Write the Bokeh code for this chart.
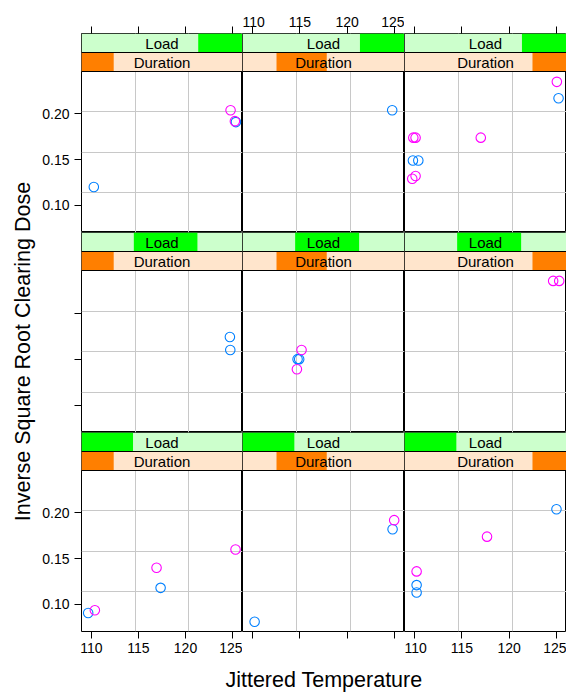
from bokeh.plotting import figure
from bokeh.layouts import gridplot, row, column
from bokeh.models import Range1d, LinearAxis, FixedTicker, Grid, PrintfTickFormatter, Title
from bokeh.core.properties import value
from bokeh.embed import file_html
from bokeh.resources import INLINE

# ---------------- data ----------------
# Duration level (1..3, panel column) and Load level (1..3, panel row from bottom)
duration_level = [1, 1, 1, 1,
                  2,
                  3, 3, 3, 3, 3, 3, 3, 3, 3,
                  1, 1,
                  2, 2, 2, 2,
                  3, 3,
                  1, 1, 1, 1, 1,
                  2, 2, 2,
                  3, 3, 3, 3, 3]
load_level = [3, 3, 3, 3,
              3,
              3, 3, 3, 3, 3, 3, 3, 3, 3,
              2, 2,
              2, 2, 2, 2,
              2, 2,
              1, 1, 1, 1, 1,
              1, 1, 1,
              1, 1, 1, 1, 1]
temperature = [110.25, 124.79, 125.25, 125.36,
               124.76,
               125.04, 125.22, 109.87, 110.11, 117.00, 109.83, 110.40, 109.76, 110.11,
               124.72, 124.76,
               115.18, 114.76, 114.93, 114.69,
               124.65, 125.29,
               109.65, 110.36, 116.92, 117.35, 125.32,
               110.22, 124.97, 124.80,
               125.00, 117.66, 110.22, 110.22, 110.22]
dose = [0.120, 0.204, 0.192, 0.191,
        0.204,
        0.235, 0.217, 0.174, 0.174, 0.174, 0.149, 0.149, 0.129, 0.132,
        0.174, 0.160,
        0.160, 0.150, 0.150, 0.139,
        0.235, 0.235,
        0.0905, 0.0935, 0.140, 0.118, 0.160,
        0.081, 0.192, 0.182,
        0.204, 0.174, 0.136, 0.121, 0.113]
group = ["b", "m", "m", "b",
         "b",
         "m", "b", "m", "m", "m", "b", "b", "m", "m",
         "b", "b",
         "m", "b", "b", "m",
         "m", "m",
         "b", "m", "m", "b", "m",
         "b", "m", "b",
         "b", "m", "m", "b", "b"]

# shingle intervals (fraction of overall range) shown in strips
duration_intervals = [(0.0, 0.20), (0.21, 0.52), (0.79, 1.0)]
load_intervals = [(0.0, 0.32), (0.325, 0.72), (0.725, 1.0)]

x_ticks = [110, 115, 120, 125]
y_ticks = [0.10, 0.15, 0.20]
x_limits = (108.94, 126.06)
y_limits = (0.0703, 0.2463)

group_colors = {"b": "#0080ff", "m": "#ff00ff"}

# ---------------- layout constants ----------------
COL_W = [161, 162, 162]
PANEL_H = [161, 162, 161]      # top, middle, bottom rows
STRIP_H = 19
YT_W = 36                      # width of y-title figure
LEFT_B = 81 - YT_W
TOP_B = 33
BOT_B = 30
FONT = "Liberation Sans"
GRID_COL = "#c8c8c8"

X_LO, X_HI = x_limits
Y_LO, Y_HI = y_limits


def make_axis(dim_ticks, show_labels, standoff, fmt=None, **kw):
    ax = LinearAxis(ticker=FixedTicker(ticks=dim_ticks),
                    major_tick_out=7, major_tick_in=0,
                    minor_tick_line_color=None, axis_line_color=None,
                    major_tick_line_color="black",
                    major_label_standoff=standoff,
                    major_label_text_font=FONT,
                    major_label_text_font_size="14px",
                    major_label_text_color="black",
                    **kw)
    if fmt is not None:
        ax.formatter = fmt
    if not show_labels:
        ax.major_label_overrides = {t: "" for t in dim_ticks}
    return ax


rows = []
for r in range(3):          # r = 0 is top row
    load_idx = 2 - r
    ph = PANEL_H[r]
    frame_top = Y_LO + (Y_HI - Y_LO) * (ph + 2 * STRIP_H) / ph
    row_figs = []
    for c in range(3):
        dur_idx = c
        p = figure(frame_width=COL_W[c], frame_height=ph + 2 * STRIP_H,
                   x_range=Range1d(X_LO, X_HI), y_range=Range1d(Y_LO, frame_top),
                   output_backend="svg", toolbar_location=None,
                   x_axis_location=None, y_axis_location=None,
                   min_border=0, outline_line_color="black",
                   background_fill_color="white", border_fill_color="white")
        p.min_border_left = LEFT_B if c == 0 else 0
        p.min_border_top = TOP_B if r == 0 else 0
        p.min_border_bottom = BOT_B if r == 2 else 0
        p.min_border_right = 0
        p.grid.visible = False
        p.extra_x_ranges = {"strip": Range1d(0, 1)}
        p.extra_y_ranges = {"strip": Range1d(-ph / STRIP_H, 2)}

        p.add_layout(Grid(dimension=0, ticker=FixedTicker(
            ticks=[X_LO + (X_HI - X_LO) * k / 3 for k in (1, 2)]),
            grid_line_color=GRID_COL, grid_line_width=1))
        p.add_layout(Grid(dimension=1, ticker=FixedTicker(
            ticks=[Y_LO + (Y_HI - Y_LO) * k / 4 for k in (1, 2, 3)]),
            grid_line_color=GRID_COL, grid_line_width=1))

        # points
        for g in ("b", "m"):
            xs = [t for t, d, l, gg in zip(temperature, duration_level, load_level, group)
                  if d == dur_idx + 1 and l == load_idx + 1 and gg == g]
            ys = [y for y, d, l, gg in zip(dose, duration_level, load_level, group)
                  if d == dur_idx + 1 and l == load_idx + 1 and gg == g]
            p.scatter(xs, ys, marker="circle", size=9.5, fill_color=None,
                      line_color=group_colors[g], line_width=1.1)

        # strips
        sk = dict(x_range_name="strip", y_range_name="strip")
        llo, lhi = load_intervals[load_idx]
        dlo, dhi = duration_intervals[dur_idx]
        p.quad(left=[0], right=[1], bottom=[1], top=[2], fill_color="#ccffcc", line_color=None, **sk)
        p.quad(left=[llo], right=[lhi], bottom=[1], top=[2], fill_color="#00ff00", line_color=None, **sk)
        p.quad(left=[0], right=[1], bottom=[0], top=[1], fill_color="#ffe5cc", line_color=None, **sk)
        p.quad(left=[dlo], right=[dhi], bottom=[0], top=[1], fill_color="#ff7f00", line_color=None, **sk)
        p.segment(x0=[0, 0], y0=[0, 1], x1=[1, 1], y1=[0, 1], line_color="black", line_width=1, **sk)
        p.text(x=[0.5], y=[1.5], text=["Load"], text_align="center", text_baseline="middle",
               text_font=value(FONT), text_font_size="15px", text_color="black", **sk)
        p.text(x=[0.5], y=[0.5], text=["Duration"], text_align="center", text_baseline="middle",
               text_font=value(FONT), text_font_size="15px", text_color="black", **sk)

        # axes
        if r == 0:
            p.add_layout(make_axis(x_ticks, show_labels=(c == 1), standoff=0), "above")
        if r == 2:
            p.add_layout(make_axis(x_ticks, show_labels=(c != 1), standoff=4), "below")
        if c == 0:
            p.add_layout(make_axis(y_ticks, show_labels=(r != 1), standoff=5,
                                   fmt=PrintfTickFormatter(format="%.2f"),
                                   bounds=(Y_LO, Y_HI)), "left")
        row_figs.append(p)
    rows.append(row_figs)

grid = gridplot(rows, toolbar_location=None)

# y-axis title: its own narrow figure, centred on the middle row's data area
mid_top = TOP_B + PANEL_H[0] + 2 * STRIP_H + 2 * STRIP_H
total_h = TOP_B + sum(PANEL_H) + 6 * STRIP_H + BOT_B + 31
ytitle = figure(frame_width=YT_W - 34, frame_height=PANEL_H[1],
                output_backend="svg", toolbar_location=None,
                x_axis_location=None, y_axis_location=None,
                min_border=0, outline_line_color=None)
ytitle.min_border_left = 34
ytitle.min_border_right = 0
ytitle.min_border_top = mid_top
ytitle.min_border_bottom = total_h - mid_top - PANEL_H[1]
ytitle.grid.visible = False
ytitle.add_layout(Title(text="Inverse Square Root Clearing Dose", align="center",
                        text_font=FONT, text_font_size="21.5px", text_font_style="normal",
                        text_color="black", standoff=0, offset=0), "left")

# x-axis title: its own short figure, centred on the panel columns
xtitle = figure(frame_width=sum(COL_W), frame_height=1,
                output_backend="svg", toolbar_location=None,
                x_axis_location=None, y_axis_location=None,
                min_border=0, outline_line_color=None)
xtitle.min_border_left = LEFT_B
xtitle.min_border_right = 0
xtitle.min_border_top = 30
xtitle.min_border_bottom = 0
xtitle.grid.visible = False
xtitle.add_layout(Title(text="Jittered Temperature", align="center",
                        text_font=FONT, text_font_size="21.5px", text_font_style="normal",
                        text_color="black", standoff=0, offset=0), "above")

layout = row(ytitle, column(grid, xtitle))
open("out.html", "w").write(file_html(layout, INLINE))
